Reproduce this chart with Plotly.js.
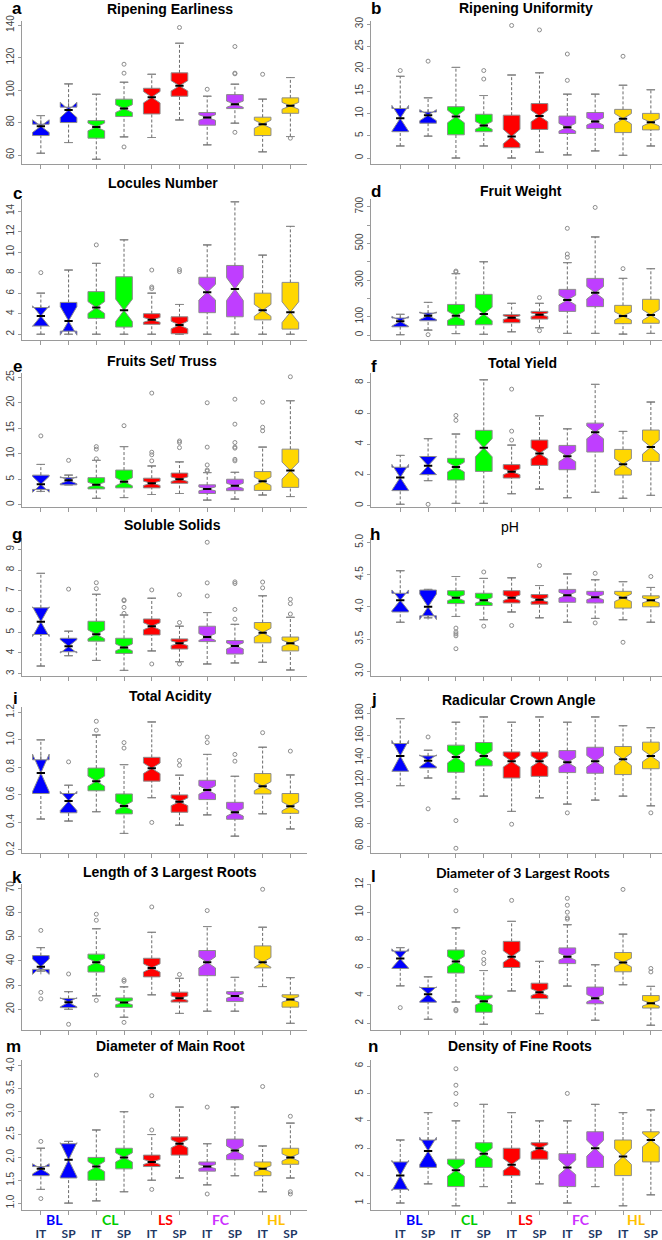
<!DOCTYPE html>
<html>
<head>
<meta charset="utf-8">
<script src="https://cdn.plot.ly/plotly-3.0.1.min.js"></script>
<style>
body { margin: 0; background: #fff; }
#plt { width: 662px; height: 1240px; }
</style>
</head>
<body>
<div id="plt"></div>
<script>
var groups = ['BL', 'CL', 'LS', 'FC', 'HL'];
var origins = ['IT', 'SP', 'IT', 'SP', 'IT', 'SP', 'IT', 'SP', 'IT', 'SP'];
var groupColors = ['#0000FF', '#00FF00', '#FF0000', '#BF3EFF', '#FFD700'];
var labelColors = ['#0000FF', '#00CC00', '#FF0000', '#CC33FF', '#FFC000'];
// rough sample size per box, only used for the notch size
var nObs = [8, 10, 50, 50, 50, 50, 50, 50, 50, 50];

// a - Ripening Earliness
var aLow = [61.1, 67.7, 57.4, 71.2, 70.8, 81.6, 66.3, 79.6, 62, 71.4];
var aQ1 = [72, 80, 70.4, 83.7, 85.3, 96.2, 78.4, 88.6, 72, 85.7];
var aMed = [77.8, 87.8, 77.3, 88.6, 95.6, 102.6, 83.1, 91.3, 79, 90.3];
var aQ3 = [79, 89.5, 81.2, 94.4, 101.1, 110.6, 86.2, 97.2, 83.3, 95.2];
var aHigh = [84.3, 103.8, 97.4, 104.8, 109.7, 128.8, 96.2, 103.6, 94.4, 107.7];
var aOut = [[], [], [], [115.9, 110.4, 65], [], [138.5], [100.5], [126.8, 110.4, 110, 74], [109.7], [70.4]];

// b - Ripening Uniformity
var bLow = [2.7, 4.9, 0, 2.7, 0, 1.3, 0.7, 1.6, 0.6, 2.7];
var bQ1 = [5.9, 7.8, 5.2, 5.9, 2.3, 6.4, 5.5, 6.6, 5.7, 6.3];
var bMed = [8.9, 9.6, 9.3, 7.3, 4.8, 9.4, 6.9, 8.2, 8.8, 8.0];
var bQ3 = [11.1, 10.3, 11.5, 9.8, 9.6, 12.2, 9.4, 10.2, 10.9, 10.0];
var bHigh = [18.3, 13.5, 20.3, 14.0, 18.6, 19.1, 14.3, 14.3, 16.3, 15.3];
var bOut = [[19.6], [21.7], [], [19.6, 17.7], [29.7], [28.7], [23.3, 17.4], [], [22.8], []];

// c - Locules Number
var cLow = [2, 2, 2, 2, 2, 2, 2, 2, 2, 2];
var cQ1 = [2.8, 2.3, 3.55, 2.7, 2.97, 2.05, 4.1, 3.7, 3.4, 2.5];
var cMed = [3.77, 3.3, 4.6, 4.33, 3.4, 2.9, 6.1, 6.4, 4.33, 4.15];
var cQ3 = [4.6, 5.1, 6.15, 7.6, 4.0, 3.7, 7.55, 8.7, 6.0, 7.05];
var cHigh = [6, 8.25, 8.9, 11.2, 6, 4.9, 10.7, 14.9, 9.7, 12.5];
var cOut = [[8], [], [10.7], [], [8.25, 6.6, 6.45], [8.3, 8.1], [], [], [], []];

// d - Fruit Weight
var dLow = [2, 27, 8, 4, 18, 40, 9, 9, 5, 9];
var dQ1 = [45, 78, 53, 56, 67, 87, 129, 155, 62, 64];
var dMed = [75, 105, 105, 115, 95, 111, 191, 231, 104, 109];
var dQ3 = [93, 120, 167, 222, 111, 129, 249, 309, 162, 195];
var dHigh = [113, 178, 335, 400, 173, 173, 395, 535, 309, 362];
var dOut = [[], [2], [349, 344], [], [], [204, 24], [582, 442, 424], [696], [362], []];

// e - Fruits Set/ Truss
var eLow = [2.6, 3.9, 1.25, 1.4, 2.0, 2.2, 0.9, 1.1, 1.9, 1.6];
var eQ1 = [3.0, 3.9, 3.1, 3.3, 3.3, 4.2, 2.2, 2.75, 2.8, 3.4];
var eMed = [4.0, 4.8, 3.9, 4.5, 4.2, 5.0, 3.1, 3.7, 4.6, 6.7];
var eQ3 = [5.8, 5.3, 5.3, 6.8, 5.2, 6.2, 3.9, 5.0, 6.5, 10.9];
var eHigh = [7.9, 5.8, 8.7, 11.4, 7.6, 8.4, 6.3, 6.35, 11.3, 20.4];
var eOut = [[13.5], [8.7], [11.4, 10.9, 9], [15.5], [21.9, 10.3, 9.8, 8.6], [12.5, 12.2, 11.2],
  [20, 11.3, 7.8, 6.8, 6.6], [20.7, 15.8, 12.2, 11.3, 11.1, 8.9, 8.6], [20.1, 15.2, 14.5], [25.1]];

// f - Total Yield
var fLow = [0.09, 1.63, 0.15, 0.15, 0.78, 1.08, 0.52, 0.87, 0.48, 0.67];
var fQ1 = [0.98, 2.02, 1.67, 2.23, 1.8, 2.62, 2.34, 3.49, 1.99, 2.88];
var fMed = [1.84, 2.6, 2.51, 3.77, 2.21, 3.4, 3.21, 4.77, 2.69, 3.81];
var fQ3 = [2.5, 3.2, 3.08, 4.9, 2.67, 4.27, 3.92, 5.37, 3.66, 4.92];
var fHigh = [3.27, 4.36, 4.66, 8.19, 3.94, 5.85, 5.0, 7.89, 4.83, 6.74];
var fOut = [[], [0.09], [5.87, 5.55], [], [7.58, 4.85, 4.27], [], [], [], [], []];

// g - Soluble Solids
var gLow = [3.37, 3.87, 3.64, 3.16, 4.1, 3.58, 3.47, 3.52, 3.55, 3.18];
var gQ1 = [4.89, 4.06, 4.57, 3.98, 4.87, 4.19, 4.55, 3.95, 4.49, 4.1];
var gMed = [5.51, 4.32, 4.9, 4.27, 5.29, 4.47, 4.77, 4.34, 4.98, 4.47];
var gQ3 = [6.18, 4.71, 5.53, 4.71, 5.64, 4.68, 5.29, 4.6, 5.47, 4.77];
var gHigh = [7.84, 5.05, 6.83, 5.83, 6.64, 5.29, 5.95, 5.38, 6.76, 5.72];
var gOut = [[], [7.08], [7.39, 7.1], [6.56, 6.52, 6.2, 5.91], [7.04, 3.47], [6.81, 5.47, 3.47],
  [9.34, 7.38, 6.75], [7.43, 7.35, 6.1, 5.63], [7.42, 7.14], [6.59, 6.38, 5.88]];

// h - pH
var hLow = [3.76, 3.83, 3.85, 3.8, 3.92, 3.83, 3.76, 3.82, 3.8, 3.76];
var hQ1 = [3.92, 3.86, 4.05, 4.02, 4.06, 4.04, 4.07, 4.06, 3.98, 4.0];
var hMed = [4.1, 4.0, 4.14, 4.1, 4.14, 4.11, 4.18, 4.15, 4.14, 4.1];
var hQ3 = [4.21, 4.26, 4.25, 4.21, 4.25, 4.19, 4.27, 4.24, 4.24, 4.17];
var hHigh = [4.56, 4.27, 4.47, 4.44, 4.45, 4.33, 4.51, 4.42, 4.39, 4.3];
var hOut = [[], [], [3.67, 3.61, 3.58, 3.55, 3.35], [4.54, 3.7], [3.71], [4.64], [], [4.52, 3.75], [3.45], [4.47]];

// i - Total Acidity
var iLow = [0.425, 0.41, 0.478, 0.32, 0.58, 0.38, 0.455, 0.3, 0.463, 0.353];
var iQ1 = [0.61, 0.47, 0.63, 0.462, 0.7, 0.474, 0.566, 0.423, 0.607, 0.466];
var iMed = [0.76, 0.556, 0.7, 0.52, 0.793, 0.55, 0.636, 0.474, 0.663, 0.517];
var iQ3 = [0.855, 0.61, 0.795, 0.607, 0.873, 0.6, 0.706, 0.546, 0.755, 0.61];
var iHigh = [1.0, 0.67, 1.035, 0.82, 1.13, 0.743, 0.894, 0.735, 0.946, 0.745];
var iOut = [[], [0.84], [1.135, 1.07], [0.98, 0.94], [0.4], [0.85, 0.815], [1.02, 0.98], [0.894, 0.845], [1.052], [0.918]];

// j - Radicular Crown Angle
var jLow = [114.6, 121.5, 102.7, 105.1, 91.3, 103.6, 97.9, 101.5, 105.1, 96.4];
var jQ1 = [127.6, 130.6, 126.7, 132.4, 121.5, 123, 126.4, 125.8, 124.6, 129.9];
var jMed = [141.5, 137, 140.6, 141.5, 136.6, 136.6, 135.7, 136.6, 138.4, 141.5];
var jQ3 = [152.7, 141.5, 151.2, 153.6, 145.1, 145.1, 146.3, 149.3, 150, 153.9];
var jHigh = [175.2, 146.6, 171.9, 176.7, 171.9, 176.7, 171.9, 176.7, 168.8, 167];
var jOut = [[], [158.6, 93.6], [83, 58], [], [79.7], [], [90], [], [], [90]];

// k - Length of 3 Largest Roots
var kLow = [35.8, 20, 25.6, 16.7, 26, 18.3, 19.2, 19.2, 29.4, 14.2];
var kQ1 = [36.5, 20.7, 35.4, 20.8, 33.4, 23, 33.9, 23.2, 37.1, 20.9];
var kMed = [37.6, 22.9, 39.4, 22.8, 37.1, 24.6, 39.4, 25.5, 39.4, 24.1];
var kQ3 = [42.2, 24.5, 42.8, 24.7, 41.1, 27.1, 44.3, 27.3, 46.2, 26];
var kHigh = [45.5, 27.3, 53.3, 29.3, 51.8, 32.8, 54.2, 33.2, 53.9, 33.1];
var kOut = [[52.6, 27, 24.3], [34.6, 13.8], [59.3, 56.8, 23.7], [32.2, 31.6, 14.6], [62.3], [34.4], [60.8], [], [69.6], []];

// l - Diameter of 3 Largest Roots
var lLow = [4.7, 2.29, 3.54, 1.93, 4.33, 2.7, 4.68, 2.22, 4.78, 1.86];
var lQ1 = [5.95, 3.52, 5.62, 2.8, 6.02, 3.78, 6.3, 3.41, 5.71, 3.1];
var lMed = [6.67, 4.1, 6.45, 3.59, 6.8, 4.24, 6.8, 3.81, 6.38, 3.45];
var lQ3 = [7.2, 4.58, 7.28, 4.02, 7.9, 4.89, 7.43, 4.61, 7.1, 4.0];
var lHigh = [7.45, 5.35, 8.88, 5.8, 9.34, 6.46, 9.1, 6.22, 8.42, 4.66];
var lOut = [[3.13], [], [11.57, 10.1, 3.0, 2.9], [7.1, 6.6, 6.3], [10.85], [], [11, 10.5, 10.0, 9.6, 9.5], [], [11.64], [5.95, 5.7]];

// m - Diameter of Main Root
var mLow = [1.3, 1.0, 1.05, 1.25, 1.5, 1.55, 1.4, 1.6, 1.25, 1.55];
var mQ1 = [1.6, 1.55, 1.5, 1.75, 1.8, 2.05, 1.7, 1.95, 1.6, 1.85];
var mMed = [1.75, 1.95, 1.8, 2.0, 1.9, 2.3, 1.8, 2.15, 1.75, 2.0];
var mQ3 = [1.8, 2.3, 2.0, 2.2, 2.05, 2.45, 1.9, 2.4, 1.9, 2.2];
var mHigh = [2.2, 2.35, 2.6, 3.0, 2.5, 3.1, 2.3, 3.1, 2.25, 2.75];
var mOut = [[1.1, 2.35], [], [3.8], [], [2.6, 3.35, 1.3], [], [1.2, 3.1], [], [3.55], [2.9, 1.2, 1.25]];

// n - Density of Fine Roots
var nLow = [1.0, 1.7, 0.9, 1.6, 1.0, 1.7, 1.0, 1.6, 0.9, 1.3];
var nQ1 = [1.5, 2.3, 1.6, 2.3, 2.0, 2.6, 1.6, 2.3, 2.0, 2.5];
var nMed = [2.0, 2.9, 2.2, 2.8, 2.4, 3.0, 2.3, 3.0, 2.7, 3.3];
var nQ3 = [2.5, 3.3, 2.6, 3.2, 3.0, 3.2, 2.8, 3.6, 3.3, 3.6];
var nHigh = [3.3, 4.3, 4.0, 4.6, 4.3, 4.0, 4.0, 4.6, 4.3, 4.4];
var nOut = [[], [], [4.6, 5.0, 5.3, 5.9], [], [], [], [5.0], [], [], []];

var panels = [
  {id: 'a', title: 'Ripening Earliness', s: [aLow, aQ1, aMed, aQ3, aHigh, aOut], range: [54.5, 142.5], ticks: [60, 80, 100, 120, 140], tt: [170, 9], lt: [17, 8]},
  {id: 'b', title: 'Ripening Uniformity', s: [bLow, bQ1, bMed, bQ3, bHigh, bOut], range: [-1.34, 30.7], ticks: [0, 5, 10, 15, 20, 25, 30], tt: [526, 8], lt: [376, 8]},
  {id: 'c', title: 'Locules Number', s: [cLow, cQ1, cMed, cQ3, cHigh, cOut], range: [1.44, 15.17], ticks: [2, 4, 6, 8, 10, 12, 14], tt: [163, 183], lt: [17, 193]},
  {id: 'd', title: 'Fruit Weight', s: [dLow, dQ1, dMed, dQ3, dHigh, dOut], range: [-27, 742], ticks: [0, 100, 200, 300, 400, 500, 600, 700],
    text: ['0', '100', '', '300', '', '500', '', '700'], tt: [521, 191], lt: [376, 191]},
  {id: 'e', title: 'Fruits Set/ Truss', s: [eLow, eQ1, eMed, eQ3, eHigh, eOut], range: [-0.45, 25.84], ticks: [0, 5, 10, 15, 20, 25], tt: [162, 361], lt: [17, 366]},
  {id: 'f', title: 'Total Yield', s: [fLow, fQ1, fMed, fQ3, fHigh, fOut], range: [-0.085, 8.63], ticks: [0, 2, 4, 6, 8], tt: [522, 363], lt: [374, 366]},
  {id: 'g', title: 'Soluble Solids', s: [gLow, gQ1, gMed, gQ3, gHigh, gOut], range: [2.89, 9.545], ticks: [3, 4, 5, 6, 7, 8, 9], tt: [172, 525], lt: [17, 535]},
  {id: 'h', title: 'pH', s: [hLow, hQ1, hMed, hQ3, hHigh, hOut], range: [2.927, 5.067], ticks: [3, 3.5, 4, 4.5, 5], fmt: '.1f', tt: [510, 527], lt: [375, 534], plain: true},
  {id: 'i', title: 'Total Acidity', s: [iLow, iQ1, iMed, iQ3, iHigh, iOut], range: [0.178, 1.2385], ticks: [0.2, 0.4, 0.6, 0.8, 1.0, 1.2], fmt: '.1f', tt: [170, 696], lt: [15, 698]},
  {id: 'j', title: 'Radicular Crown Angle', s: [jLow, jQ1, jMed, jQ3, jHigh, jOut], range: [53.7, 185.7], ticks: [60, 80, 100, 120, 140, 160, 180], tt: [519, 700], lt: [374, 699]},
  {id: 'k', title: 'Length of 3 Largest Roots', s: [kLow, kQ1, kMed, kQ3, kHigh, kOut], range: [11.45, 71.78], ticks: [20, 30, 40, 50, 60, 70], tt: [170, 872], lt: [17, 878]},
  {id: 'l', title: 'Diameter of 3 Largest Roots', s: [lLow, lQ1, lMed, lQ3, lHigh, lOut], range: [1.52, 12.03], ticks: [2, 4, 6, 8, 10, 12], tt: [523, 872], lt: [373, 876], lato: true},
  {id: 'm', title: 'Diameter of Main Root', s: [mLow, mQ1, mMed, mQ3, mHigh, mOut], range: [0.85, 4.13], ticks: [1, 1.5, 2, 2.5, 3, 3.5, 4], fmt: '.1f', tt: [170, 1046], lt: [13, 1046]},
  {id: 'n', title: 'Density of Fine Roots', s: [nLow, nQ1, nMed, nQ3, nHigh, nOut], range: [0.745, 6.22], ticks: [1, 2, 3, 4, 5, 6], tt: [520, 1046], lt: [373, 1046]}
];

var W = 662, H = 1240;
var rowPx = [[21, 164], [199, 340], [373, 507], [538, 676], [707, 853], [884, 1030], [1060, 1210]];
var colPx = [[22, 307], [371, 662]];
var colRange = [[-0.68, 9.6], [-1.05, 9.4]];
var boxW = 0.6;
var greyLine = '#8c8c8c';

function px(x) { return x / W; }
function py(y) { return 1 - y / H; }

// a flat "box" drawn as a short horizontal bar at the given values
function bar(xa, ya, vals, width, color, lw) {
  return {
    type: 'box', xaxis: xa, yaxis: ya,
    x: vals.map(function (v, i) { return i; }),
    q1: vals, median: vals, q3: vals, lowerfence: vals, upperfence: vals,
    width: width, whiskerwidth: 0,
    fillcolor: 'rgba(0,0,0,0)',
    line: {color: color, width: lw},
    boxpoints: false, hoverinfo: 'skip'
  };
}

var data = [];
var layout = {
  width: W, height: H,
  margin: {l: 0, r: 0, t: 0, b: 0},
  paper_bgcolor: '#fff', plot_bgcolor: '#fff',
  showlegend: false,
  font: {family: 'Liberation Sans, Arial, sans-serif', color: '#000'},
  annotations: []
};

panels.forEach(function (p, k) {
  var row = Math.floor(k / 2), col = k % 2;
  var xa = 'x' + (k + 1), ya = 'y' + (k + 1);
  var low = p.s[0], q1 = p.s[1], med = p.s[2], q3 = p.s[3], high = p.s[4], out = p.s[5];

  // dashed whiskers
  var wx = [], wy = [];
  for (var i = 0; i < low.length; i++) {
    wx.push(i, i, null, i, i, null);
    wy.push(low[i], q1[i], null, q3[i], high[i], null);
  }
  data.push({
    type: 'scatter', mode: 'lines', xaxis: xa, yaxis: ya,
    x: wx, y: wy, connectgaps: false,
    line: {color: '#6a6a6a', width: 1, dash: '3px,2px'},
    hoverinfo: 'skip'
  });
  // whisker staples
  data.push(bar(xa, ya, low, boxW * 0.5, greyLine, 1));
  data.push(bar(xa, ya, high, boxW * 0.5, greyLine, 1));

  for (var g = 0; g < groups.length; g++) {
    var idx = [2 * g, 2 * g + 1];
    data.push({
      type: 'box', xaxis: xa, yaxis: ya,
      x: idx,
      q1: idx.map(function (i) { return q1[i]; }),
      median: idx.map(function (i) { return med[i]; }),
      q3: idx.map(function (i) { return q3[i]; }),
      lowerfence: idx.map(function (i) { return q1[i]; }),
      upperfence: idx.map(function (i) { return q3[i]; }),
      notched: true,
      notchspan: idx.map(function (i) { return 1.57 * (q3[i] - q1[i]) / Math.sqrt(nObs[i]); }),
      notchwidth: 0.5,
      width: boxW,
      whiskerwidth: 0,
      fillcolor: groupColors[g],
      line: {color: greyLine, width: 1},
      boxpoints: false,
      hoverinfo: 'skip'
    });
  }

  // black median bars, as wide as the notch waist
  data.push(bar(xa, ya, med, boxW * 0.5, '#000', 2));

  var ox = [], oy = [];
  out.forEach(function (vals, i) {
    vals.forEach(function (v) { ox.push(i); oy.push(v); });
  });
  data.push({
    type: 'scatter', mode: 'markers', xaxis: xa, yaxis: ya,
    x: ox, y: oy,
    marker: {symbol: 'circle-open', size: 4, color: greyLine, line: {width: 1}},
    hoverinfo: 'skip'
  });

  var bottom = row === 6;
  layout['xaxis' + (k + 1)] = {
    domain: [px(colPx[col][0]), px(colPx[col][1])],
    range: colRange[col],
    anchor: ya,
    showline: true, linecolor: '#9a9a9a', linewidth: 1,
    ticks: 'outside', ticklen: 4, tickcolor: '#9a9a9a',
    tickvals: origins.map(function (o, i) { return i; }),
    ticktext: origins.map(function (o) { return '<b>' + o + '</b>'; }),
    showticklabels: bottom,
    ticklabelstandoff: 9,
    tickfont: {family: 'Lato, sans-serif', size: 12, color: '#1F3864'},
    showgrid: false, zeroline: false, fixedrange: true
  };
  var yax = {
    domain: [py(rowPx[row][1]), py(rowPx[row][0])],
    range: p.range,
    anchor: xa,
    showline: true, linecolor: '#9a9a9a', linewidth: 1,
    ticks: 'outside', ticklen: 3, tickcolor: '#9a9a9a',
    tickvals: p.ticks,
    tickangle: -90,
    tickfont: {size: 10, color: '#444'},
    showgrid: false, zeroline: false, fixedrange: true
  };
  if (p.text) yax.ticktext = p.text;
  if (p.fmt) yax.tickformat = p.fmt;
  layout['yaxis' + (k + 1)] = yax;

  layout.annotations.push({
    xref: 'paper', yref: 'paper', x: px(p.tt[0]), y: py(p.tt[1]),
    xanchor: 'center', yanchor: 'middle', showarrow: false,
    text: p.plain ? p.title : '<b>' + p.title + '</b>',
    font: {size: 14, family: p.lato ? 'Lato, sans-serif' : 'Liberation Sans, Arial, sans-serif'}
  });
  layout.annotations.push({
    xref: 'paper', yref: 'paper', x: px(p.lt[0]), y: py(p.lt[1]),
    xanchor: 'center', yanchor: 'middle', showarrow: false,
    text: '<b>' + p.id + '</b>',
    font: {size: 17}
  });

  if (bottom) {
    groups.forEach(function (gname, g) {
      layout.annotations.push({
        xref: xa, yref: 'paper', x: 2 * g + 0.5, y: py(1219),
        xanchor: 'center', yanchor: 'middle', showarrow: false,
        text: '<b>' + gname + '</b>',
        font: {family: 'Lato, sans-serif', size: 14, color: labelColors[g]}
      });
    });
  }
});

Plotly.newPlot('plt', data, layout, {staticPlot: true});
</script>
</body>
</html>
